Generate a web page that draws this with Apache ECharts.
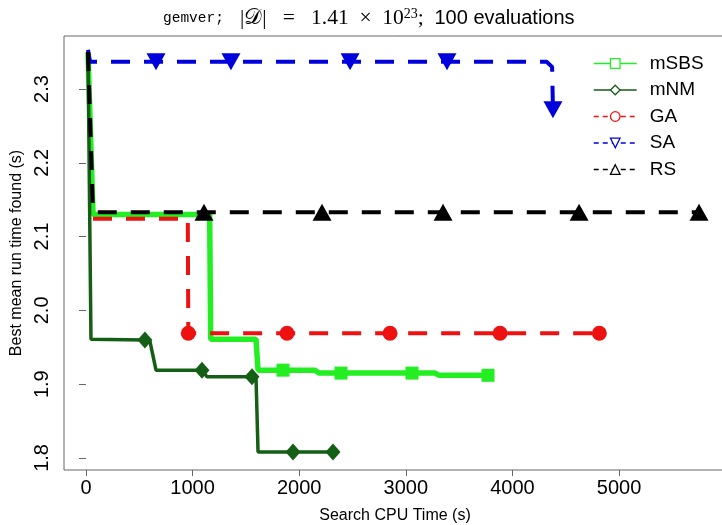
<!DOCTYPE html>
<html>
<head>
<meta charset="utf-8">
<script src="https://cdn.jsdelivr.net/npm/echarts@6/dist/echarts.min.js"></script>
<style>
  html, body { margin: 0; padding: 0; background: #fff; }
  #chart { width: 722px; height: 525px; }
</style>
</head>
<body>
<div id="chart"></div>
<script>
// tick positions
const xTicks = [0, 1000, 2000, 3000, 4000, 5000];
const yTicks = [1.8, 1.9, 2.0, 2.1, 2.2, 2.3];

// series: time (s), best mean run time (s), indices of points that carry a marker
const mSBSTime = [19, 66, 1160, 1170, 1595, 1614, 1848, 2148, 2186, 2392, 3058, 3274, 3311, 3771];
const mSBSValue = [2.350, 2.130, 2.130, 1.961, 1.961, 1.919, 1.919, 1.919, 1.915, 1.915, 1.915, 1.915, 1.912, 1.912];
const mSBSMarks = [6, 9, 10, 13];

const mNMTime = [19, 47, 553, 600, 657, 1088, 1135, 1557, 1595, 1614, 1942, 2317];
const mNMValue = [2.350, 1.961, 1.960, 1.958, 1.919, 1.919, 1.910, 1.910, 1.909, 1.808, 1.808, 1.808];
const mNMMarks = [2, 5, 7, 10, 11];

const GATime = [66, 955, 960, 1886, 2852, 3884, 4815];
const GAValue = [2.124, 2.124, 1.969, 1.969, 1.969, 1.969, 1.969];
const GAMarks = [2, 3, 4, 5, 6];

const SATime = [19, 38, 657, 1360, 2477, 3386, 4320, 4372, 4380];
const SAValue = [2.353, 2.337, 2.337, 2.337, 2.337, 2.337, 2.337, 2.330, 2.272];
const SAMarks = [2, 3, 4, 5, 8];

const RSTime = [19, 66, 1107, 2214, 3349, 4625, 5750];
const RSValue = [2.350, 2.133, 2.133, 2.133, 2.133, 2.133, 2.133];
const RSMarks = [2, 3, 4, 5, 6];

const FONT = "'Liberation Sans', Arial, sans-serif";

function points(times, values, marks) {
  return times.map((t, i) => ({
    value: [t, values[i]],
    symbol: marks.includes(i) ? undefined : "none",
  }));
}

const dash = [19, 14];

const seriesDefs = [
  { name: "mSBS", color: "#22ee22", width: 5.5, type: "solid", symbol: "rect", size: 13, rotate: 0,
    data: points(mSBSTime, mSBSValue, mSBSMarks) },
  { name: "mNM", color: "#155e15", width: 3.5, type: "solid", symbol: "diamond", size: [15, 17], rotate: 0,
    data: points(mNMTime, mNMValue, mNMMarks) },
  { name: "GA", color: "#ee1111", width: 4, type: dash, symbol: "circle", size: 15, rotate: 0,
    data: points(GATime, GAValue, GAMarks) },
  { name: "SA", color: "#0000dd", width: 4, type: dash, symbol: "triangle", size: [19, 17], rotate: 180,
    data: points(SATime, SAValue, SAMarks) },
  { name: "RS", color: "#000000", width: 4, type: dash, symbol: "triangle", size: [19, 17], rotate: 0,
    data: points(RSTime, RSValue, RSMarks) },
];

const chart = echarts.init(document.getElementById("chart"), null, { renderer: "canvas" });

chart.setOption({
  animation: false,
  backgroundColor: "#fff",
  title: {
    left: 163,
    top: 7,
    padding: 0,
    text: "{tt|gemver;}{m|   |𝒟|   =   1.41  ×  10}{sup|23}{m|;  }{sf|100 evaluations}",
    textStyle: {
      fontWeight: "normal",
      rich: {
        tt: { fontFamily: "'Liberation Mono', monospace", fontSize: 14.5, fontWeight: "normal", color: "#000" },
        m: { fontFamily: "'Liberation Serif', 'DejaVu Serif', serif", fontSize: 21.5, fontWeight: "normal", color: "#000" },
        sup: { fontFamily: "'Liberation Serif', serif", fontSize: 14, fontWeight: "normal", color: "#000", verticalAlign: "top" },
        sf: { fontFamily: FONT, fontSize: 20, fontWeight: "normal", color: "#000" },
      },
    },
  },
  legend: {
    orient: "vertical",
    left: 588,
    top: 49,
    itemWidth: 43,
    itemHeight: 12,
    itemGap: 7.5,
    textStyle: { fontFamily: FONT, fontSize: 19, color: "#000", padding: [0, 0, 0, 8] },
    lineStyle: { width: 1.5 },
    itemStyle: { color: "#fff", borderWidth: 1.3 },
    data: seriesDefs.map((s) => ({
      name: s.name,
      lineStyle: { type: s.type === "solid" ? "solid" : [5, 4], color: s.color, width: 1.5 },
      itemStyle: { color: "#fff", borderColor: s.color, borderWidth: 1.3 },
    })),
  },
  grid: {
    left: 64,
    right: -4,
    top: 36,
    bottom: 55,
    outerBoundsMode: "none",
    show: true,
    borderColor: "#666",
    borderWidth: 1,
  },
  xAxis: {
    type: "value",
    min: -206,
    max: 6003,
    name: "Search CPU Time (s)",
    nameLocation: "middle",
    nameGap: 38,
    nameTextStyle: { fontFamily: FONT, fontSize: 16, color: "#000" },
    axisLine: { show: false },
    splitLine: { show: false },
    axisTick: { show: true, length: 6, lineStyle: { color: "#666" }, customValues: xTicks },
    axisLabel: {
      fontFamily: FONT,
      fontSize: 20,
      color: "#000",
      margin: 8,
      customValues: xTicks,
      formatter: (v) => String(v),
    },
  },
  yAxis: {
    type: "value",
    min: 1.7837,
    max: 2.3718,
    name: "Best mean run time found (s)",
    nameLocation: "middle",
    nameGap: 37,
    nameTextStyle: { fontFamily: FONT, fontSize: 16, color: "#000" },
    axisLine: { show: false },
    splitLine: { show: false },
    axisTick: { show: true, length: 7, lineStyle: { color: "#666" }, customValues: yTicks },
    axisLabel: {
      fontFamily: FONT,
      fontSize: 20,
      color: "#000",
      rotate: 90,
      margin: 12,
      customValues: yTicks,
      formatter: (v) => v.toFixed(1),
    },
  },
  series: seriesDefs.map((s) => ({
    name: s.name,
    type: "line",
    color: s.color,
    symbol: s.symbol,
    symbolSize: s.size,
    symbolRotate: s.rotate,
    showSymbol: true,
    lineStyle: { width: s.width, type: s.type, color: s.color },
    itemStyle: { color: s.color },
    emphasis: { disabled: true },
    data: s.data,
  })),
});
</script>
</body>
</html>
